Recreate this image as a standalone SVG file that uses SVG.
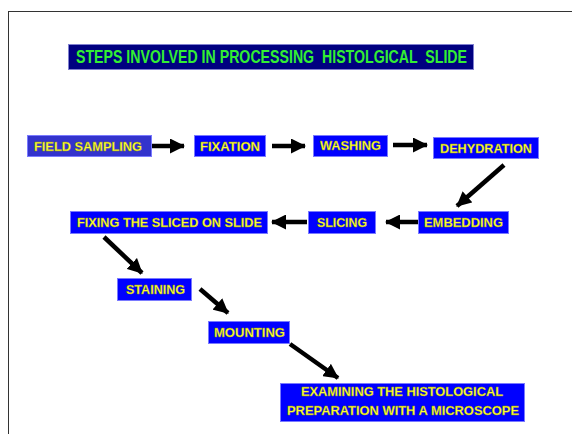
<svg xmlns="http://www.w3.org/2000/svg" width="572" height="434" viewBox="0 0 572 434">
<defs>
<marker id="ah" markerUnits="userSpaceOnUse" markerWidth="15" markerHeight="15" viewBox="0 0 15 15" refX="14" refY="7.5" orient="auto">
<path d="M0,0 L15,7.5 L0,15 Z" fill="#000"/>
</marker>
<style>
.box{fill:#0000ff;stroke:#7a7aff;stroke-width:1}
.t{font-family:"Liberation Sans",Arial,sans-serif;font-weight:bold;font-size:13px;fill:#ffff33;stroke:#8a8a00;stroke-width:0.3}
.ar{stroke:#000;stroke-width:4.5;fill:none;marker-end:url(#ah)}
</style>
</defs>
<rect x="0" y="0" width="572" height="434" fill="#fff"/>
<rect x="8.5" y="11.5" width="600" height="500" fill="none" stroke="#333" stroke-width="1"/>
<g id="title">
<rect x="68.5" y="44.5" width="405" height="25" fill="#000080" stroke="#8080d0" stroke-width="1"/>
<text x="76" y="63" font-family="'Liberation Sans',Arial,sans-serif" font-weight="bold" font-size="17.5" fill="#33ee33" textLength="391" lengthAdjust="spacingAndGlyphs" xml:space="preserve">STEPS INVOLVED IN PROCESSING  HISTOLGICAL  SLIDE</text>
</g>
<g id="field-sampling">
<rect x="27.5" y="135.5" width="124" height="21" class="box" style="fill:#3333cc"/>
<text x="34" y="150.5" class="t" textLength="108" lengthAdjust="spacingAndGlyphs">FIELD SAMPLING</text>
</g>
<g id="fixation">
<rect x="194.5" y="135.5" width="71" height="21" class="box"/>
<text x="200" y="150.5" class="t" textLength="60" lengthAdjust="spacingAndGlyphs">FIXATION</text>
</g>
<g id="washing">
<rect x="313.5" y="135.5" width="74" height="21" class="box"/>
<text x="320" y="150" class="t" textLength="61" lengthAdjust="spacingAndGlyphs">WASHING</text>
</g>
<g id="dehydration">
<rect x="433.5" y="137.5" width="105" height="21" class="box"/>
<text x="440" y="152.5" class="t" textLength="92" lengthAdjust="spacingAndGlyphs">DEHYDRATION</text>
</g>
<g id="embedding">
<rect x="418.5" y="211.5" width="90" height="22" class="box"/>
<text x="424" y="227" class="t" textLength="79" lengthAdjust="spacingAndGlyphs">EMBEDDING</text>
</g>
<g id="slicing">
<rect x="308.5" y="211.5" width="67" height="22" class="box"/>
<text x="317" y="227" class="t" textLength="50" lengthAdjust="spacingAndGlyphs">SLICING</text>
</g>
<g id="fixing">
<rect x="70.5" y="211.5" width="197" height="22" class="box"/>
<text x="77" y="227" class="t" textLength="185" lengthAdjust="spacingAndGlyphs">FIXING THE SLICED ON SLIDE</text>
</g>
<g id="staining">
<rect x="117.5" y="278.5" width="74" height="22" class="box"/>
<text x="126" y="294" class="t" textLength="59" lengthAdjust="spacingAndGlyphs">STAINING</text>
</g>
<g id="mounting">
<rect x="208.5" y="321.5" width="81" height="22" class="box"/>
<text x="214" y="337" class="t" textLength="71" lengthAdjust="spacingAndGlyphs">MOUNTING</text>
</g>
<g id="examining">
<rect x="280.5" y="383.5" width="244" height="38" class="box"/>
<text x="301" y="396" class="t" textLength="202" lengthAdjust="spacingAndGlyphs">EXAMINING THE HISTOLOGICAL</text>
<text x="287" y="414.5" class="t" textLength="232" lengthAdjust="spacingAndGlyphs">PREPARATION WITH A MICROSCOPE</text>
</g>
<g id="connectors">
<line x1="152" y1="146" x2="184" y2="146" class="ar"/>
<line x1="272" y1="146" x2="305" y2="146" class="ar"/>
<line x1="393" y1="145" x2="427" y2="145" class="ar"/>
<line x1="504" y1="165" x2="457" y2="206" class="ar"/>
<line x1="418" y1="222" x2="386" y2="222" class="ar"/>
<line x1="307" y1="222" x2="272" y2="222" class="ar"/>
<line x1="104" y1="237" x2="142" y2="273" class="ar"/>
<line x1="200" y1="289" x2="228" y2="313" class="ar"/>
<line x1="290" y1="344" x2="338" y2="378" class="ar"/>
</g>
</svg>
